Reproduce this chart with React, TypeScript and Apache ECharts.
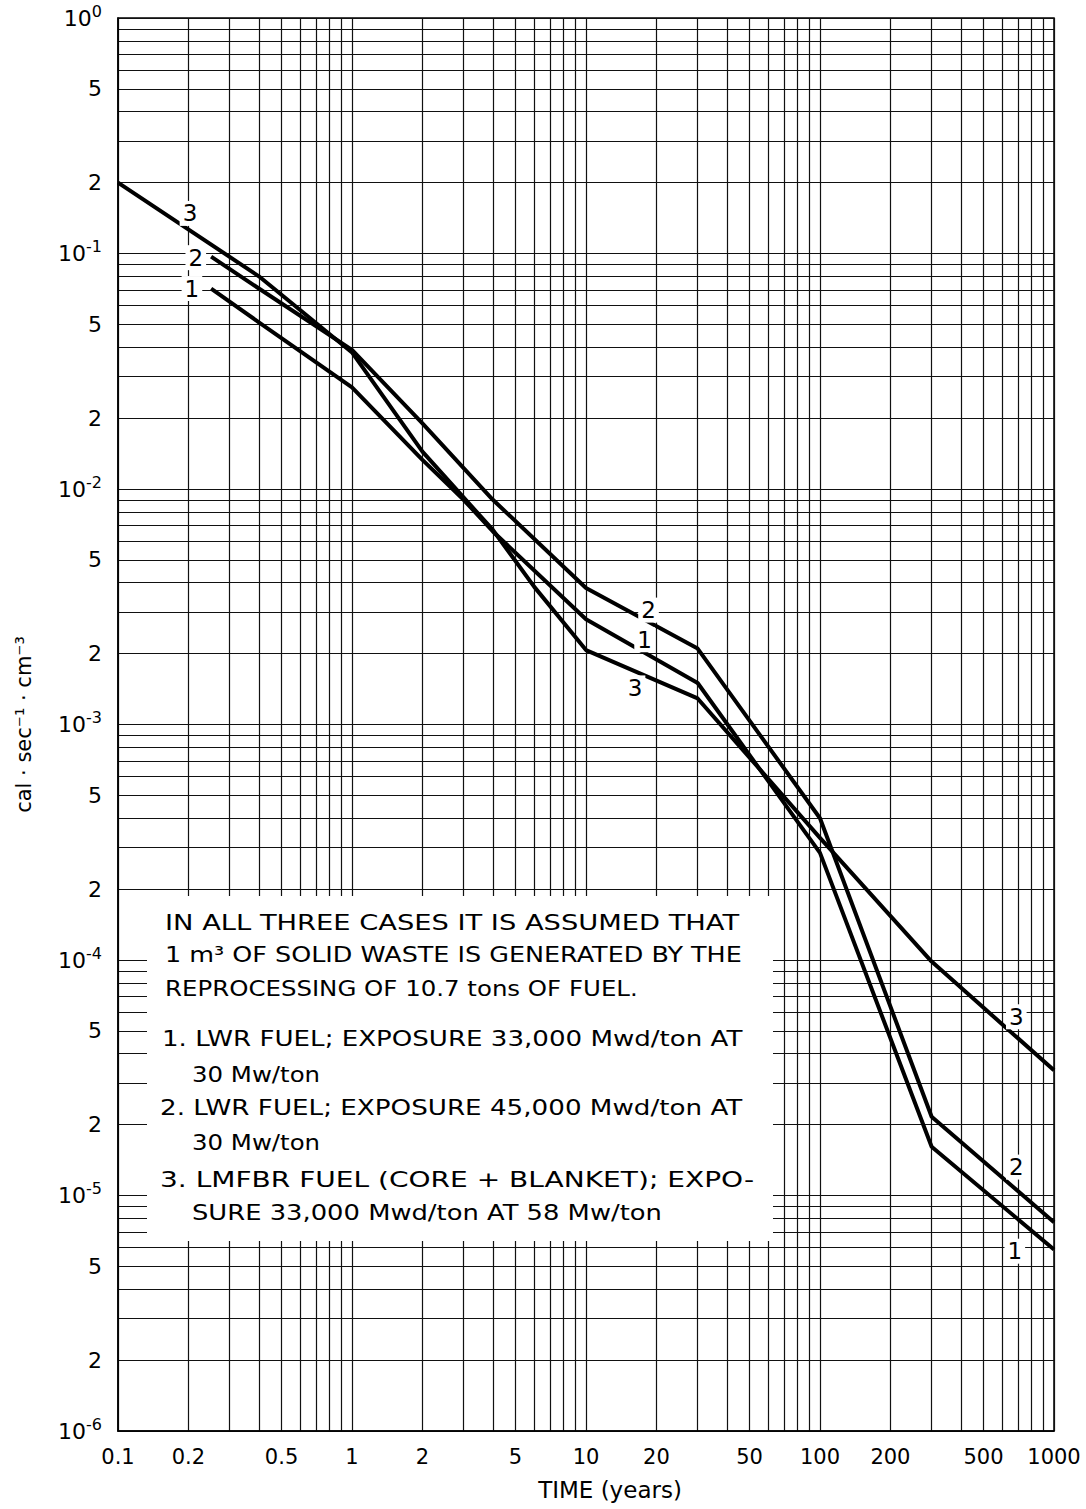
import React, { useEffect, useRef } from "react";
import * as echarts from "echarts";

// ---- axis tick labels ----
const xLabelValues = [0.1, 0.2, 0.5, 1, 2, 5, 10, 20, 50, 100, 200, 500, 1000];
const yLabelValues = [
  1e-6, 2e-6, 5e-6, 1e-5, 2e-5, 5e-5, 1e-4, 2e-4, 5e-4, 1e-3, 2e-3, 5e-3,
  1e-2, 2e-2, 5e-2, 1e-1, 2e-1, 5e-1, 1,
];
const gridMantissas = [1, 2, 3, 4, 5, 6, 7, 8, 9];
const xDecades = [-1, 0, 1, 2];
const yDecades = [-6, -5, -4, -3, -2, -1];

// ---- curves (TIME years, cal·sec-1·cm-3) ----
const curve1X = [0.25, 0.4, 1, 2, 3, 4, 10, 30, 100, 300, 1000];
const curve1Y = [0.071, 0.051, 0.027, 0.0133, 0.009, 0.0066, 0.0028, 0.0015, 0.000285, 0.0000161, 0.0000059];
const curve2X = [0.25, 0.4, 1, 2, 4, 10, 30, 100, 300, 1000];
const curve2Y = [0.097, 0.071, 0.039, 0.019, 0.009, 0.0038, 0.0021, 0.0004, 0.0000216, 0.0000077];
const curve3X = [0.1, 0.4, 1, 2, 4, 6, 10, 30, 100, 300, 1000];
const curve3Y = [0.2, 0.08, 0.038, 0.0144, 0.0067, 0.00385, 0.00207, 0.00129, 0.00033, 0.0000985, 0.000034];

// ---- curve number labels (data coordinates) ----
const curve1LabelAt = [[0.207, 0.071], [17.8, 0.00229], [680, 0.0000058]];
const curve2LabelAt = [[0.215, 0.096], [18.5, 0.00306], [690, 0.0000132]];
const curve3LabelAt = [[0.203, 0.148], [16.2, 0.00143], [690, 0.0000574]];

// ---- note text ----
const noteLines = [
  "IN ALL THREE CASES IT IS ASSUMED THAT",
  "1 m\u00B3 OF SOLID WASTE IS GENERATED BY THE",
  "REPROCESSING OF 10.7 tons OF FUEL.",
  "1. LWR FUEL; EXPOSURE 33,000 Mwd/ton AT",
  "30 Mw/ton",
  "2. LWR FUEL; EXPOSURE 45,000 Mwd/ton AT",
  "30 Mw/ton",
  "3. LMFBR FUEL (CORE + BLANKET); EXPO-",
  "SURE 33,000 Mwd/ton AT 58 Mw/ton",
];
const noteLineX = [165, 165, 165, 162, 192, 160, 192, 160, 192];
const noteLineY = [922, 955, 988, 1039, 1074, 1108, 1142, 1180, 1213];
const noteLineScaleX = [1.241, 1.157, 1.111, 1.186, 1.11, 1.19, 1.11, 1.275, 1.173];

const FONT = "DejaVu Sans";

function gridValues(decades: number[], last: number) {
  const out: number[] = [];
  decades.forEach((d) => {
    gridMantissas.forEach((m) => out.push(Number((m * Math.pow(10, d)).toPrecision(6))));
  });
  out.push(last);
  return out;
}

function yLabel(v: number) {
  const e = Math.floor(Math.log10(v) + 1e-9);
  const m = Math.round(v / Math.pow(10, e));
  if (m === 1) return "{b|10}{s|" + (e < 0 ? "-" + -e : String(e)) + "}";
  return "{b|" + m + "}";
}

function xLabel(v: number) {
  return String(Number(v.toPrecision(6)));
}

function labelPoints(pts: number[][], name: string) {
  return pts.map((p) => ({ coord: p, name }));
}

export default function App() {
  const ref = useRef<HTMLDivElement>(null);

  useEffect(() => {
    document.body.style.margin = "0";
    if (!ref.current) return;
    const chart = echarts.init(ref.current, null, { renderer: "svg" });

    const lineStyle = { color: "#000", width: 4 };
    const mkLabel = {
      show: true,
      position: "inside",
      formatter: "{b}",
      color: "#000",
      fontSize: 23,
      fontFamily: FONT,
      backgroundColor: "#fff",
      padding: [1, 3],
    };
    const mk = (pts: number[][], name: string) => ({
      symbol: "rect",
      symbolSize: 1,
      itemStyle: { color: "rgba(0,0,0,0)" },
      label: mkLabel,
      data: labelPoints(pts, name),
    });

    const series = [
      { name: "1", x: curve1X, y: curve1Y, lab: curve1LabelAt },
      { name: "2", x: curve2X, y: curve2Y, lab: curve2LabelAt },
      { name: "3", x: curve3X, y: curve3Y, lab: curve3LabelAt },
    ].map((c) => ({
      type: "line",
      name: c.name,
      data: c.x.map((x, i) => [x, c.y[i]]),
      symbol: "none",
      lineStyle,
      z: 3,
      markPoint: mk(c.lab, c.name),
    }));

    const graphics: any[] = [
      {
        type: "rect",
        shape: { x: 147, y: 896, width: 626, height: 345 },
        style: { fill: "#fff" },
        z: 1,
      },
      ...noteLines.map((t, i) => ({
        type: "text",
        x: noteLineX[i],
        y: noteLineY[i],
        scaleX: noteLineScaleX[i],
        z: 2,
        style: {
          text: t,
          font: "22px " + FONT,
          fill: "#000",
          textAlign: "left",
          textVerticalAlign: "middle",
          verticalAlign: "middle",
        },
      })),
    ];

    chart.setOption({
      animation: false,
      backgroundColor: "#fff",
      grid: {
        left: 118,
        right: 32,
        top: 18,
        bottom: 78,
        show: true,
        borderColor: "#000",
        borderWidth: 1.5,
      },
      xAxis: {
        type: "log",
        logBase: 10,
        min: 0.1,
        max: 1000,
        name: "TIME (years)",
        nameLocation: "middle",
        nameGap: 47,
        nameTextStyle: { fontSize: 23, fontFamily: FONT, color: "#000", padding: [0, 0, 0, 48] },
        axisLine: { show: true, lineStyle: { color: "#000", width: 1.5 } },
        axisTick: { show: false, customValues: gridValues(xDecades, 1000) },
        axisLabel: {
          customValues: xLabelValues,
          formatter: xLabel,
          fontSize: 21,
          fontFamily: FONT,
          color: "#000",
          margin: 15,
        },
        splitLine: { show: true, lineStyle: { color: "#111", width: 1.2 } },
        minorTick: { show: false },
      },
      yAxis: {
        type: "log",
        logBase: 10,
        min: 1e-6,
        max: 1,
        name: "cal \u00B7 sec\u207B\u00B9 \u00B7 cm\u207B\u00B3",
        nameLocation: "middle",
        nameGap: 84,
        nameTextStyle: { fontSize: 21, fontFamily: FONT, color: "#000" },
        axisLine: { show: true, lineStyle: { color: "#000", width: 1.5 } },
        axisTick: { show: false, customValues: gridValues(yDecades, 1) },
        axisLabel: {
          customValues: yLabelValues,
          formatter: yLabel,
          margin: 16,
          color: "#000",
          rich: {
            b: { fontSize: 22, fontFamily: FONT, color: "#000", lineHeight: 30 },
            s: { fontSize: 16, fontFamily: FONT, color: "#000", lineHeight: 16, verticalAlign: "top" },
          },
        },
        splitLine: { show: true, lineStyle: { color: "#111", width: 1.2 } },
      },
      graphic: graphics,
      series,
    });

    return () => chart.dispose();
  }, []);

  return <div ref={ref} style={{ width: 1086, height: 1509 }} />;
}
